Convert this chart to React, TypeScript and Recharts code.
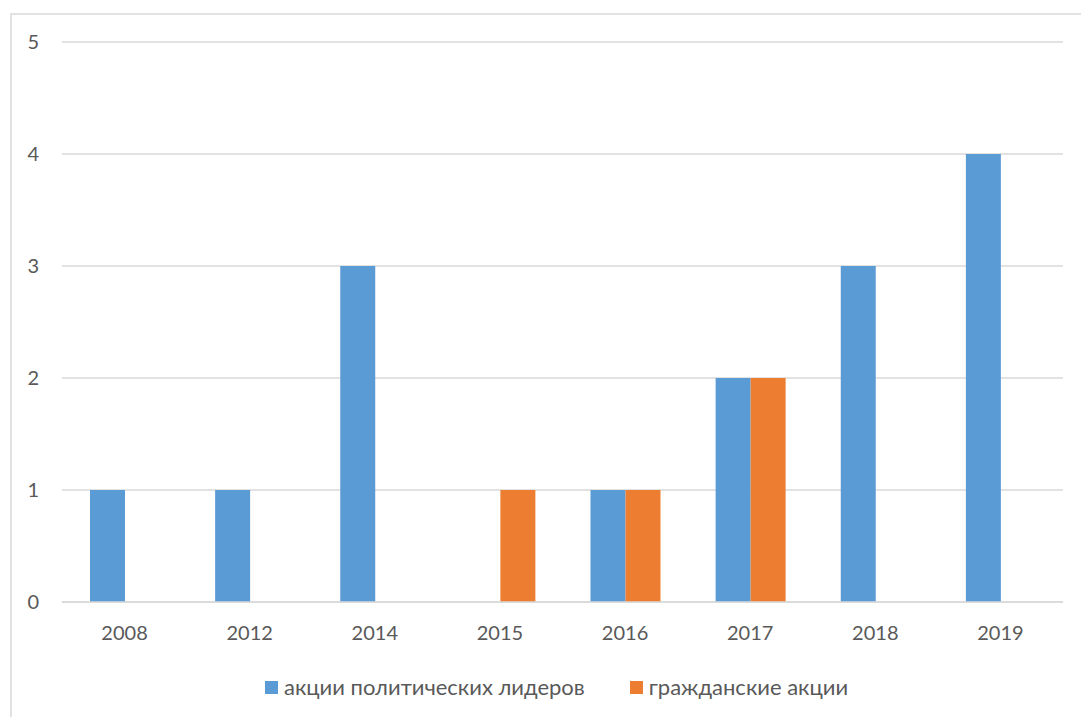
import React from 'react';
import { BarChart, Bar, XAxis, YAxis, CartesianGrid, Legend } from 'recharts';

const categories = ['2008', '2012', '2014', '2015', '2016', '2017', '2018', '2019'];
const leaders = [1, 1, 3, 0, 1, 2, 3, 4];
const civil = [0, 0, 0, 1, 1, 2, 0, 0];
const yTicks = [0, 1, 2, 3, 4, 5];
const seriesNames = ['акции политических лидеров', 'гражданские акции'];
const colors = ['#5B9BD5', '#ED7D31'];

const data = categories.map((c, i) => ({ year: c, leaders: leaders[i], civil: civil[i] }));

const FONT = 'Lato, "Open Sans", sans-serif';

const LegendContent = (props: any) => {
  const payload = props.payload || [];
  return (
    <div style={{ display: 'flex', alignItems: 'center', paddingLeft: 265, height: 30, fontFamily: FONT, fontSize: 22, color: '#595959' }}>
      {payload.map((p: any, i: number) => (
        <div key={i} style={{ display: 'flex', alignItems: 'center', marginRight: 45 }}>
          <div style={{ width: 13, height: 13, background: p.color, marginRight: 6 }} />
          <span style={{ whiteSpace: 'nowrap', lineHeight: '30px' }}>{p.value}</span>
        </div>
      ))}
    </div>
  );
};

export default function App() {
  return (
    <div style={{ position: 'absolute', left: 0, top: 0, width: 1081, height: 717, background: '#fff', overflow: 'hidden' }}>
      <div style={{ position: 'absolute', left: 10, top: 13, width: 1100, height: 750, border: '2px solid #e2e2e2', boxSizing: 'border-box' }} />
      <BarChart
        width={1081}
        height={717}
        data={data}
        margin={{ top: 42, right: 18, left: 0, bottom: 15 }}
        barGap={0}
        barSize={35}
      >
        <CartesianGrid vertical={false} stroke="#d9d9d9" strokeWidth={1.5} />
        <XAxis
          dataKey="year"
          height={70}
          tickLine={false}
          tickSize={0}
          tickMargin={24}
          axisLine={{ stroke: '#d9d9d9', strokeWidth: 1.5 }}
          tick={{ fill: '#595959', fontSize: 20, fontFamily: FONT }}
        />
        <YAxis
          width={62}
          domain={[0, 5]}
          ticks={yTicks}
          tickLine={false}
          axisLine={false}
          tickSize={0}
          tickMargin={23}
          tick={{ fill: '#595959', fontSize: 20, fontFamily: FONT }}
        />
        <Legend height={30} verticalAlign="bottom" content={<LegendContent />} />
        <Bar dataKey="leaders" name={seriesNames[0]} fill={colors[0]} isAnimationActive={false} />
        <Bar dataKey="civil" name={seriesNames[1]} fill={colors[1]} isAnimationActive={false} />
      </BarChart>
    </div>
  );
}
